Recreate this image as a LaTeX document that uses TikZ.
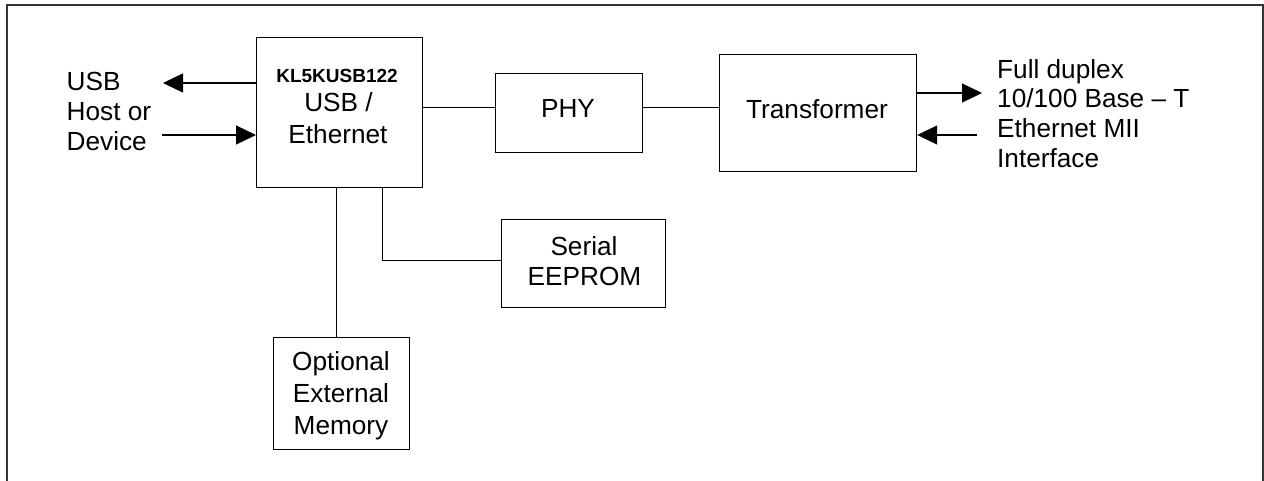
\documentclass[tikz,border=0pt]{standalone}
\usepackage{fontspec}
\setmainfont{Liberation Sans}
\usetikzlibrary{arrows.meta}
\tikzset{
  box/.style={draw=black, line width=1.2pt, rectangle, inner sep=0pt, anchor=north west},
  txt/.style={inner sep=0pt, anchor=base, font=\fontsize{26.2}{30}\selectfont},
  ltxt/.style={txt, anchor=base west},
  btxt/.style={inner sep=0pt, anchor=base, font=\fontsize{19}{24}\selectfont\bfseries},
  conn/.style={draw=black, line width=1.2pt},
  arr/.style={conn, -{Triangle[length=20pt,width=19pt]}},
  frame/.style={draw=black!80, line width=2pt}
}
\begin{document}
\begin{tikzpicture}[x=1pt,y=-1pt]
\useasboundingbox (0,0) rectangle (1264,480);
\begin{scope}
\clip (0,0) rectangle (1264,480);
\draw[frame] (7,5) rectangle (1262.5,500);
\end{scope}

% boxes
\node[box, minimum width=166pt, minimum height=150pt] (main) at (256,37) {};
\node[box, minimum width=147pt, minimum height=79pt] (phy) at (495,73) {};
\node[box, minimum width=197pt, minimum height=117pt] (trans) at (719,54) {};
\node[box, minimum width=164pt, minimum height=88pt] (eeprom) at (501,219) {};
\node[box, minimum width=136pt, minimum height=112pt] (mem) at (273,337) {};

% box texts
\node[btxt] (t1) at (337,82.7) {KL5KUSB122};
\node[txt] (t2) at (338.5,111.7) {USB /};
\node[txt] (t3) at (338,143) {Ethernet};
\node[txt] (tphy) at (568,117) {PHY};
\node[txt] (ttr) at (817,118) {Transformer};
\node[txt] (te1) at (584,255) {Serial};
\node[txt] (te2) at (584.5,285) {EEPROM};
\node[txt] (tm1) at (341,370.5) {Optional};
\node[txt] (tm2) at (341,402.5) {External};
\node[txt] (tm3) at (341,434) {Memory};

% left labels
\node[ltxt] (l1) at (66.5,90) {USB};
\node[ltxt] (l2) at (66.5,120) {Host or};
\node[ltxt] (l3) at (66.5,150) {Device};

% right labels
\node[ltxt] (r1) at (997,78) {Full duplex};
\node[ltxt] (r2) at (997,107.5) {10/100 Base -- T};
\node[ltxt] (r3) at (997,137) {Ethernet MII};
\node[ltxt] (r4) at (997,167) {Interface};

% free ends
\coordinate (usbout) at (163,83);
\coordinate (usbin) at (162,135);
\coordinate (ethout) at (982,93);
\coordinate (ethin) at (977,135);
\coordinate (eebend) at (382.7,260.7);
\coordinate (membus) at (336.8,300);

% connectors
\draw[arr] (main.west |- usbout) -- (usbout);
\draw[arr] (usbin) -- (main.west |- usbin);
\draw[conn] ([yshift=5.5pt]main.east |- phy.west) -- ([yshift=5.5pt]phy.west);
\draw[conn] ([yshift=5.5pt]phy.east) -- ([yshift=5.5pt]trans.west |- phy.west);
\draw[arr] ([xshift=-0.6pt]trans.east |- ethout) -- (ethout);
\draw[arr] (ethin) -- (trans.east |- ethin);
\draw[conn] (membus |- mem.north) -- (membus |- main.south);
\draw[conn] (eebend |- main.south) -- (eebend) -- (eeprom.west |- eebend);
\end{tikzpicture}
\end{document}
